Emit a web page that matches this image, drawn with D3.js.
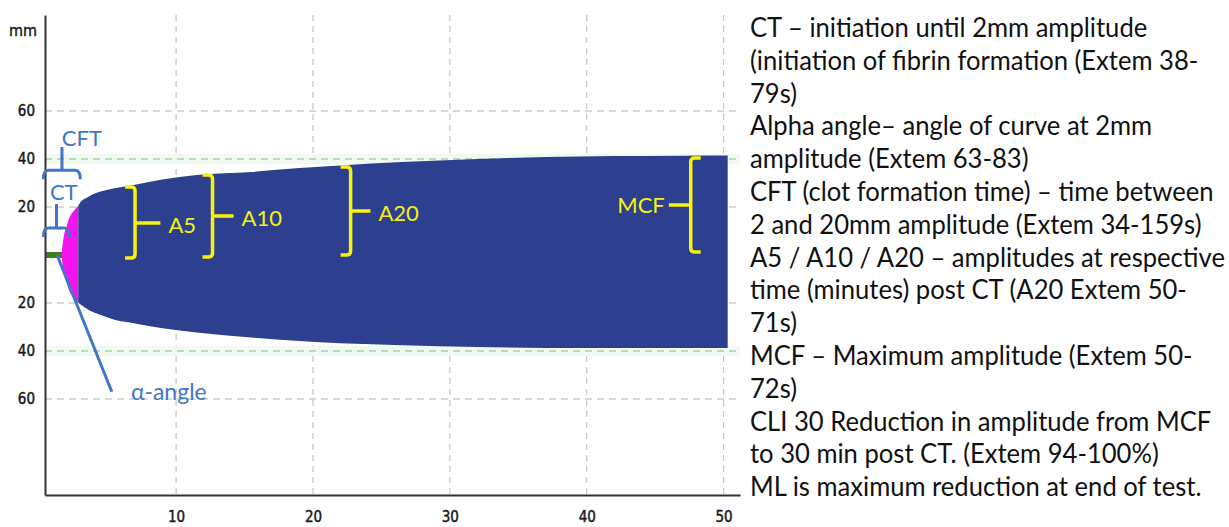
<!DOCTYPE html>
<html><head><meta charset="utf-8">
<script src="https://cdn.jsdelivr.net/npm/d3@7"></script>
<style>body{margin:0;background:#fff;} svg{display:block;}</style>
</head><body>
<svg id="c" width="1229" height="527"></svg>
<script>
// ---- data (time in minutes, amplitude in mm) ----
const times    = [1.66, 1.8, 2.0, 2.2, 2.4, 2.6, 2.85, 3.0, 3.5, 4.0, 4.5, 5.5, 7, 9, 11.5, 15.5, 19, 22, 26.5, 32, 37, 42, 47, 50.3];
const upperAmp = [2, 8, 12, 15.5, 17.5, 19, 20.5, 22, 24, 25.5, 26.5, 27.8, 29.3, 31.5, 33.3, 34.6, 36.2, 37.3, 38.7, 40, 40.8, 41.2, 41.4, 41.5];
const lowerAmp = [2, 7.5, 11.5, 15, 17, 18.5, 20, 20.5, 22.5, 24, 25, 27, 28.5, 30.5, 32.3, 34.4, 35.8, 36.8, 37.6, 38.3, 38.7, 38.8, 38.8, 38.8];
const xTicks = [10, 20, 30, 40, 50];
const yTicks = [60, 40, 20, -20, -40, -60];
const greenRefLines = [40, -40];
const ctTime = 1.66;      // end of CT (green)
const cftEnd = 2.85;      // end of CFT (magenta)
const bracketLabels  = ["A5", "A10", "A20"];
const bracketTimes   = [7.0, 12.66, 22.75];
const bracketTops    = [28.3, 33.3, 36.7];
const bracketBottoms = [-1.3, -0.8, 0];
const bracketMids    = [13.3, 16.3, 18.3];
const bracketStemEnd = [8.85, 14.2, 24.2];
const mcfLabel = "MCF";
const mcfTime = 47.6, mcfTop = 40.4, mcfBottom = 1.2, mcfMid = 20.8, mcfStemEnd = 46.0;
const notes = [
  "CT \u2013 initiation until 2mm amplitude",
  "(initiation of fibrin formation (Extem 38-",
  "79s)",
  "Alpha angle\u2013 angle of curve at 2mm",
  "amplitude (Extem 63-83)",
  "CFT (clot formation time) \u2013 time between",
  "2 and 20mm amplitude (Extem 34-159s)",
  "A5 / A10 / A20 \u2013 amplitudes at respective",
  "time (minutes) post CT (A20 Extem 50-",
  "71s)",
  "MCF \u2013 Maximum amplitude (Extem 50-",
  "72s)",
  "CLI 30 Reduction in amplitude from MCF",
  "to 30 min post CT. (Extem 94-100%)",
  "ML is maximum reduction at end of test."
];

// ---- scales ----
const x = d3.scaleLinear().domain([0.42, 51.2]).range([45, 740]);
const y = d3.scaleLinear().domain([-100, 100]).range([495, 15]);
const svg = d3.select("#c");

const BLUE = "#2d3f8f", MAG = "#f514f0", GREEN = "#3e7d1c", YEL = "#f6f20e", ANN = "#4176c6";
const axisFont = "'DejaVu Sans Condensed', 'DejaVu Sans', sans-serif";
const txtFont = "Lato, 'Open Sans', sans-serif";

// grid
const grid = svg.append("g");
grid.selectAll("line.v").data(xTicks).join("line")
  .attr("x1", d => x(d)).attr("x2", d => x(d)).attr("y1", y(100)).attr("y2", y(-100))
  .attr("stroke", "#c4c4c4").attr("stroke-width", 1.2).attr("stroke-dasharray", "6,5");
grid.selectAll("rect.band").data(greenRefLines).join("rect")
  .attr("x", x.range()[0]).attr("width", x.range()[1] - x.range()[0])
  .attr("y", d => y(d) - 5).attr("height", 10).attr("fill", "#f1faf0");
grid.selectAll("line.h").data(yTicks).join("line")
  .attr("x1", x.range()[0]).attr("x2", x.range()[1]).attr("y1", d => y(d)).attr("y2", d => y(d))
  .attr("stroke", d => greenRefLines.includes(d) ? "#86b886" : "#b4b4b4")
  .attr("stroke-width", 1.2).attr("stroke-dasharray", "7,5");

// trace
const pts = times.map((t, i) => ({t, hi: upperAmp[i], lo: lowerAmp[i]}));
const area = d3.area().x(d => x(d.t)).y0(d => y(-d.lo)).y1(d => y(d.hi)).curve(d3.curveMonotoneX);
svg.append("path").datum(pts.filter(d => d.t <= cftEnd)).attr("d", area).attr("fill", MAG);
svg.append("path").datum(pts.filter(d => d.t >= cftEnd)).attr("d", area).attr("fill", BLUE);
svg.append("rect").attr("x", x(0.42)).attr("width", x(ctTime) - x(0.42))
  .attr("y", y(1.25)).attr("height", y(-1.25) - y(1.25)).attr("fill", GREEN);

// axes
const yAxis = svg.append("g").attr("transform", `translate(${x.range()[0]},0)`)
  .call(d3.axisLeft(y).tickValues(yTicks).tickSize(0).tickPadding(10).tickFormat(d => Math.abs(d)));
const xAxis = svg.append("g").attr("transform", `translate(0,${y.range()[0]})`)
  .call(d3.axisBottom(x).tickValues(xTicks).tickSize(0).tickPadding(16));
[yAxis, xAxis].forEach(g => {
  g.attr("font-family", axisFont).attr("font-size", 15);
  g.select(".domain").attr("stroke", "#333").attr("stroke-width", 2);
  g.selectAll("text").attr("fill", "#1a1a1a").attr("stroke", "#1a1a1a").attr("stroke-width", 0.45);
});
svg.append("text").attr("x", 37).attr("y", 36).attr("text-anchor", "end")
  .attr("font-family", axisFont).attr("font-size", 16).attr("fill", "#1a1a1a")
  .attr("stroke", "#1a1a1a").attr("stroke-width", 0.4).text("mm");

// yellow brackets (A5 / A10 / A20): hooks left, stem right
function yBracket(xv, yt, yb, ym, xs, dir) {
  const h = 10 * dir, r = 4;
  return `M${xv + h},${yt} L${xv + r * dir},${yt} Q${xv},${yt} ${xv},${yt + r} L${xv},${yb - r} Q${xv},${yb} ${xv + r * dir},${yb} L${xv + h},${yb} M${xv},${ym} L${xs},${ym}`;
}
const yb = svg.append("g");
bracketLabels.forEach((lab, i) => {
  yb.append("path").attr("d", yBracket(x(bracketTimes[i]), y(bracketTops[i]), y(bracketBottoms[i]), y(bracketMids[i]), x(bracketStemEnd[i]), -1))
    .attr("fill", "none").attr("stroke", YEL).attr("stroke-width", 3.5);
  yb.append("text").attr("x", x(bracketStemEnd[i]) + 8).attr("y", y(bracketMids[i]) + 10)
    .attr("font-family", txtFont).attr("font-size", 22).attr("fill", YEL).text(lab);
});
yb.append("path").attr("d", yBracket(x(mcfTime), y(mcfTop), y(mcfBottom), y(mcfMid), x(mcfStemEnd), 1))
  .attr("fill", "none").attr("stroke", YEL).attr("stroke-width", 3.5);
yb.append("text").attr("x", x(mcfStemEnd) - 4).attr("y", y(mcfMid) + 8).attr("text-anchor", "end")
  .attr("font-family", txtFont).attr("font-size", 22).attr("fill", YEL).text(mcfLabel);

// blue annotations: CT / CFT brackets and alpha-angle
function hBracket(x0, x1, yy, xs, ys) {
  const r = 5;
  return `M${x0},${yy + 9} Q${x0},${yy} ${x0 + r},${yy} L${x1 - r},${yy} Q${x1},${yy} ${x1},${yy + 9} M${xs},${yy} L${xs},${ys}`;
}
const ann = svg.append("g");
ann.append("path").attr("d", hBracket(x(0.3), x(3.0), y(35.3), x(1.66), y(45)))
  .attr("fill", "none").attr("stroke", ANN).attr("stroke-width", 3);
ann.append("path").attr("d", hBracket(x(0.3), x(2.2), y(11.3), x(1.26), y(21.3)))
  .attr("fill", "none").attr("stroke", ANN).attr("stroke-width", 3);
ann.append("text").attr("x", x(1.65)).attr("y", y(45.5)).attr("font-family", txtFont)
  .attr("font-size", 22).attr("fill", ANN).text("CFT");
ann.append("text").attr("x", x(0.78)).attr("y", y(22.8)).attr("font-family", txtFont)
  .attr("font-size", 22).attr("fill", ANN).text("CT");
ann.append("line").attr("x1", x(1.3)).attr("y1", y(0)).attr("x2", x(5.3)).attr("y2", y(-57))
  .attr("stroke", ANN).attr("stroke-width", 3);
ann.append("text").attr("x", x(6.7)).attr("y", y(-60.5)).attr("font-family", txtFont)
  .attr("font-size", 23).attr("fill", ANN).text("\u03b1-angle");

// right-hand notes
const ng = svg.append("g");
const nt = ng.selectAll("text").data(notes).join("text")
  .attr("x", 0).attr("y", (d, i) => 37 + i * 32.8)
  .attr("font-family", txtFont).attr("font-size", 26).attr("fill", "#111").text(d => d);
let wmax = 0; nt.each(function () { wmax = Math.max(wmax, this.getComputedTextLength()); });
const sx = 475 / wmax;
ng.attr("transform", `translate(750,0) scale(${sx},1)`);
</script>
</body></html>
